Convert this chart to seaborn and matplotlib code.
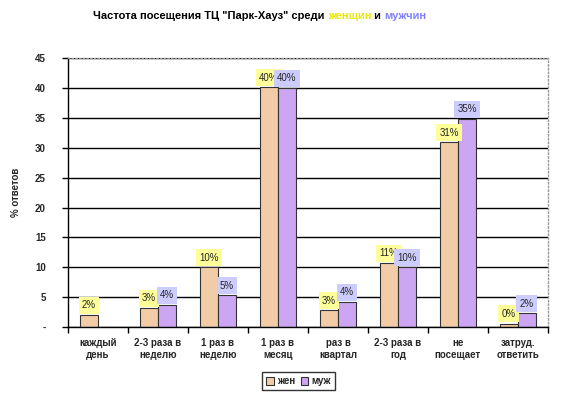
import numpy as np
import pandas as pd
import seaborn as sns
import matplotlib.pyplot as plt

categories = ['каждый\nдень', '2-3 раза в\nнеделю', '1 раз в\nнеделю', '1 раз в\nмесяц',
              'раз в\nквартал', '2-3 раза в\nгод', 'не\nпосещает', 'затруд.\nответить']
women = [2.0, 3.2, 10.0, 40.1, 2.8, 10.7, 30.9, 0.6]
men = [0.0, 3.7, 5.3, 40.0, 4.2, 10.0, 34.8, 2.3]
women_labels = ['2%', '3%', '10%', '40%', '3%', '11%', '31%', '0%']
men_labels = [None, '4%', '5%', '40%', '4%', '10%', '35%', '2%']
series = ['жен', 'муж']
yticks = [0, 5, 10, 15, 20, 25, 30, 35, 40, 45]
ytick_labels = ['-', '5', '10', '15', '20', '25', '30', '35', '40', '45']

sns.set_style('white')
plt.rcParams['font.family'] = ['Liberation Sans', 'DejaVu Sans']
plt.rcParams['font.weight'] = 'bold'
plt.rcParams['font.size'] = 7

df = pd.DataFrame({
    'cat': categories * 2,
    'val': women + men,
    'who': [series[0]] * len(categories) + [series[1]] * len(categories),
})

fig = plt.figure(figsize=(5.62, 3.98), dpi=100)
ax = fig.add_axes([0.121, 0.178, 0.854, 0.676])

bar_colors = {'жен': '#FFCC99', 'муж': '#CC99FF'}
sns.barplot(data=df, x='cat', y='val', hue='who', order=categories, hue_order=series,
            palette=bar_colors, width=0.6, errorbar=None, edgecolor='#333333',
            linewidth=0.8, ax=ax, legend=True)

ax.set_ylim(0, 45)
ax.set_xlim(-0.5, len(categories) - 0.5)
ax.set_yticks(yticks)
ax.set_yticklabels(ytick_labels, fontsize=7, fontweight='bold')
ax.yaxis.grid(True, color='black', linewidth=1)
ax.set_axisbelow(True)
ax.tick_params(axis='y', length=4, width=1, color='black', direction='out', left=True, pad=12)
ax.tick_params(axis='x', which='major', length=0, pad=8, labelsize=7)
ax.set_xticks(np.arange(-0.5, len(categories), 1.0), minor=True)
ax.tick_params(axis='x', which='minor', length=4, width=1, color='black', direction='out', bottom=True)
ax.set_xlabel('')
ax.set_ylabel('% ответов', fontsize=7, fontweight='bold', labelpad=10)

for side in ['top', 'right']:
    ax.spines[side].set_color('#999999')
    ax.spines[side].set_linestyle(':')
    ax.spines[side].set_linewidth(1)
for side in ['left', 'bottom']:
    ax.spines[side].set_color('black')
    ax.spines[side].set_linewidth(1)

# data labels with coloured boxes; a category without a label has no bar either
box_colors = ['#FFFF99', '#CCCCFF']
for container, labels, bc in zip(ax.containers, [women_labels, men_labels], box_colors):
    for patch, lab in zip(container, labels):
        if lab is None:
            patch.set_visible(False)
            continue
        h = patch.get_height()
        x = patch.get_x() + patch.get_width() / 2
        ax.annotate(lab, (x, h), xytext=(0, 3.5), textcoords='offset points',
                    ha='center', va='bottom', fontsize=7, fontweight='normal',
                    bbox=dict(boxstyle='square,pad=0.35', facecolor=bc, edgecolor='none'))

leg = ax.legend(loc='upper center', bbox_to_anchor=(0.48, -0.15), ncol=2, frameon=True,
                fontsize=7, handlelength=0.8, handleheight=0.8, handletextpad=0.3,
                columnspacing=0.6, borderpad=0.4, fancybox=False)
leg.get_frame().set_edgecolor('black')
leg.get_frame().set_linewidth(1)

# multi-coloured title
pieces = [('Частота посещения ТЦ "Парк-Хауз" среди ', 'black'), ('женщин', '#E8E800'),
          (' и ', 'black'), ('мужчин', '#8080FF')]
fig.canvas.draw()
renderer = fig.canvas.get_renderer()
texts = []
for s, c in pieces:
    t = fig.text(0, 0.96, s, color=c, fontsize=8, fontweight='bold', va='center', ha='left')
    texts.append(t)
widths = [t.get_window_extent(renderer).width for t in texts]
total = sum(widths)
x0 = 260 - total / 2
for t, w in zip(texts, widths):
    t.set_x(x0 / fig.bbox.width)
    x0 += w

fig.savefig('out.png', dpi=100)
